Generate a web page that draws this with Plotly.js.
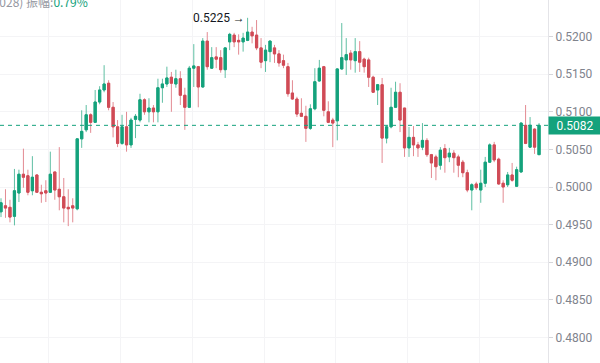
<!DOCTYPE html>
<html>
<head>
<meta charset="utf-8">
<script src="https://cdn.plot.ly/plotly-3.0.1.min.js"></script>
<style>
html,body{margin:0;padding:0;background:#fff;}
#chart{width:600px;height:363px;}
</style>
</head>
<body>
<div id="chart"></div>
<script>
// OHLC data (one candle per period)
const openP = [0.4967,0.4975,0.4973,0.4961,0.4992,0.5017,0.5015,0.4995,0.5016,0.4993,
0.4995,0.4993,0.5020,0.4997,0.4987,0.4973,0.4975,0.4971,0.5064,0.5076,
0.5096,0.5086,0.5113,0.5129,0.5138,0.5106,0.5080,0.5058,0.5080,0.5056,
0.5090,0.5089,0.5116,0.5100,0.5105,0.5100,0.5132,0.5137,0.5146,0.5137,
0.5144,0.5122,0.5106,0.5158,0.5160,0.5133,0.5194,0.5158,0.5173,0.5172,
0.5156,0.5193,0.5202,0.5195,0.5193,0.5195,0.5206,0.5202,0.5185,0.5168,
0.5180,0.5185,0.5177,0.5168,0.5160,0.5125,0.5117,0.5098,0.5094,0.5078,
0.5104,0.5141,0.5160,0.5100,0.5089,0.5088,0.5157,0.5169,0.5178,0.5168,
0.5180,0.5170,0.5169,0.5146,0.5129,0.5136,0.5065,0.5080,0.5106,0.5126,
0.5105,0.5052,0.5066,0.5056,0.5053,0.5062,0.5043,0.5040,0.5029,0.5051,
0.5040,0.5045,0.5040,0.5033,0.5019,0.4996,0.5004,0.4996,0.5005,0.5033,
0.5056,0.5037,0.5005,0.5003,0.5016,0.5001,0.5020,0.5082,0.5053,0.5077,
0.5043];
const highP = [0.4985,0.4997,0.4983,0.5024,0.5023,0.5051,0.5023,0.5041,0.5017,0.5003,
0.5009,0.5047,0.5020,0.5053,0.5012,0.4997,0.4985,0.5064,0.5102,0.5109,
0.5098,0.5129,0.5134,0.5162,0.5142,0.5113,0.5089,0.5096,0.5100,0.5092,
0.5097,0.5124,0.5118,0.5118,0.5109,0.5144,0.5144,0.5160,0.5153,0.5156,
0.5154,0.5132,0.5161,0.5190,0.5161,0.5198,0.5206,0.5186,0.5186,0.5182,
0.5186,0.5205,0.5205,0.5203,0.5205,0.5225,0.5213,0.5222,0.5198,0.5189,
0.5195,0.5189,0.5182,0.5176,0.5165,0.5142,0.5120,0.5118,0.5108,0.5110,
0.5158,0.5169,0.5161,0.5114,0.5092,0.5158,0.5218,0.5198,0.5182,0.5198,
0.5194,0.5172,0.5172,0.5148,0.5137,0.5145,0.5082,0.5132,0.5140,0.5138,
0.5105,0.5080,0.5081,0.5060,0.5085,0.5065,0.5044,0.5043,0.5053,0.5057,
0.5052,0.5049,0.5043,0.5036,0.5023,0.5005,0.5007,0.5023,0.5040,0.5058,
0.5060,0.5039,0.5009,0.5020,0.5032,0.5027,0.5086,0.5109,0.5093,0.5078,
0.5085];
const lowP = [0.4960,0.4959,0.4953,0.4949,0.4980,0.4999,0.4989,0.4989,0.4992,0.4979,
0.4980,0.4992,0.4983,0.4969,0.4953,0.4948,0.4953,0.4969,0.5052,0.5073,
0.5072,0.5086,0.5110,0.5126,0.5102,0.5066,0.5053,0.5056,0.5047,0.5052,
0.5065,0.5086,0.5096,0.5086,0.5086,0.5086,0.5112,0.5133,0.5100,0.5132,
0.5109,0.5076,0.5105,0.5133,0.5106,0.5132,0.5156,0.5157,0.5158,0.5152,
0.5145,0.5182,0.5186,0.5176,0.5180,0.5194,0.5191,0.5182,0.5158,0.5153,
0.5166,0.5165,0.5160,0.5158,0.5120,0.5116,0.5093,0.5093,0.5060,0.5076,
0.5102,0.5140,0.5094,0.5085,0.5053,0.5062,0.5156,0.5149,0.5156,0.5152,
0.5153,0.5152,0.5133,0.5125,0.5109,0.5032,0.5058,0.5078,0.5105,0.5073,
0.5040,0.5040,0.5041,0.5040,0.5049,0.5040,0.5012,0.5009,0.5023,0.5019,
0.5033,0.5019,0.5013,0.5013,0.4993,0.4969,0.4996,0.4979,0.5000,0.5032,
0.5033,0.5003,0.4979,0.5000,0.5007,0.5000,0.5019,0.5057,0.5052,0.5044,
0.5043];
const closeP = [0.4979,0.4972,0.4960,0.4995,0.5017,0.5013,0.4993,0.5013,0.4993,0.4991,
0.4992,0.5017,0.4996,0.4987,0.4972,0.4971,0.4972,0.5064,0.5074,0.5096,
0.5086,0.5113,0.5129,0.5137,0.5106,0.5080,0.5058,0.5080,0.5056,0.5089,
0.5094,0.5116,0.5100,0.5105,0.5100,0.5132,0.5137,0.5145,0.5138,0.5144,
0.5122,0.5106,0.5158,0.5161,0.5133,0.5194,0.5160,0.5172,0.5170,0.5156,
0.5185,0.5203,0.5193,0.5193,0.5198,0.5206,0.5201,0.5185,0.5166,0.5182,
0.5194,0.5177,0.5165,0.5162,0.5124,0.5117,0.5097,0.5094,0.5078,0.5104,
0.5140,0.5158,0.5102,0.5086,0.5085,0.5157,0.5172,0.5176,0.5169,0.5180,
0.5166,0.5160,0.5146,0.5126,0.5136,0.5065,0.5080,0.5106,0.5126,0.5089,
0.5052,0.5066,0.5056,0.5052,0.5062,0.5043,0.5032,0.5027,0.5049,0.5039,
0.5045,0.5039,0.5029,0.5019,0.4996,0.5003,0.4999,0.5005,0.5033,0.5056,
0.5036,0.5004,0.5000,0.5016,0.5009,0.5023,0.5085,0.5058,0.5082,0.5053,
0.5082];

const yTicks = [0.4800,0.4850,0.4900,0.4950,0.5000,0.5050,0.5100,0.5150,0.5200,0.5250];
const headerChange = "(+0.0028)";
const headerLabel = "振幅:";
const headerAmp = "0.79%";

const GREEN = "#14a27c";
const RED = "#d04b56";
const GREEN_WICK = "#5fbfa3";
const RED_WICK = "#e38a92";

const idx = openP.map((_, i) => i);
const lastClose = closeP[closeP.length - 1];

// peak
let peakI = 0;
highP.forEach((h, i) => { if (h > highP[peakI]) peakI = i; });

const bodyHigh = openP.map((o, i) => Math.max(o, closeP[i]));
const bodyLow = openP.map((o, i) => Math.min(o, closeP[i]));

const wicks = {
  type: "candlestick", x: idx, open: openP, high: highP, low: lowP, close: closeP,
  increasing: {line: {color: GREEN_WICK, width: 1}, fillcolor: GREEN},
  decreasing: {line: {color: RED_WICK, width: 1}, fillcolor: RED},
  hoverinfo: "skip", showlegend: false
};
const bodies = {
  type: "candlestick", x: idx, open: openP, high: bodyHigh, low: bodyLow, close: closeP,
  increasing: {line: {color: GREEN, width: 1}, fillcolor: GREEN},
  decreasing: {line: {color: RED, width: 1}, fillcolor: RED},
  hoverinfo: "skip", showlegend: false
};

const plotW = 548;
const layout = {
  width: 600, height: 363,
  margin: {l: 0, r: 52, t: 0, b: 0, pad: 0},
  paper_bgcolor: "#ffffff", plot_bgcolor: "#ffffff",
  font: {family: "Roboto, 'Noto Sans', sans-serif", size: 12, color: "#787b86"},
  showlegend: false,
  xaxis: {
    range: [-0.223, 122.0], rangeslider: {visible: false},
    showticklabels: false, ticks: "", zeroline: false,
    showgrid: true, gridcolor: "#f4f4f6", tickmode: "linear", tick0: 10.7, dtick: 16,
    showline: false, fixedrange: true
  },
  yaxis: {
    side: "right", range: [0.476596, 0.524867],
    tickmode: "array", tickvals: yTicks, ticktext: yTicks.map(v => v.toFixed(4)),
    ticks: "outside", ticklen: 4, tickcolor: "#d6d6da",
    showline: true, linecolor: "#e4e4e8", linewidth: 1, mirror: false,
    showgrid: true, gridcolor: "#f4f4f6", zeroline: false,
    tickfont: {size: 12, color: "#80838d"}, fixedrange: true
  },
  shapes: [{
    type: "line", xref: "paper", x0: 0, x1: 1, yref: "y", y0: lastClose, y1: lastClose,
    line: {color: GREEN, width: 1, dash: "4px,4px"}, layer: "above"
  }],
  annotations: [
    {
      xref: "paper", x: 1, xanchor: "left", yref: "y", y: lastClose, yanchor: "middle",
      text: lastClose.toFixed(4), showarrow: false,
      bgcolor: GREEN, font: {color: "#ffffff", size: 12},
      width: 48, height: 13, align: "center", borderpad: 2, xshift: 0
    },
    {
      xref: "x", x: peakI, xanchor: "right", yref: "y", y: highP[peakI], yanchor: "middle",
      text: highP[peakI].toFixed(4) + " →", showarrow: false, xshift: -1,
      font: {color: "#131722", size: 12}
    },
    {
      xref: "paper", x: 90 / plotW, xanchor: "right", yref: "paper", y: 1 - 1 / 363, yanchor: "middle",
      text: headerChange + " " + headerLabel + '<span style="color:' + GREEN + '">' + headerAmp + "</span>",
      showarrow: false, font: {color: "#9598a1", size: 12, family: "'Noto Sans CJK SC', Roboto, sans-serif"}
    }
  ]
};

Plotly.newPlot("chart", [wicks, bodies], layout, {displayModeBar: false, staticPlot: true});
</script>
</body>
</html>
